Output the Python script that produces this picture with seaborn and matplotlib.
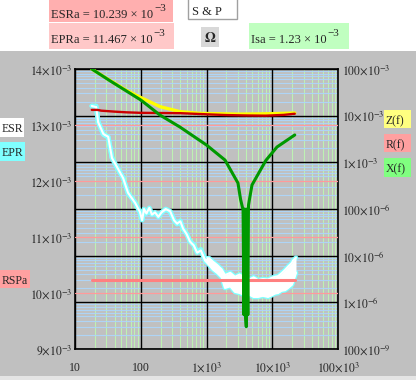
import numpy as np
import matplotlib
matplotlib.use("Agg")
import matplotlib.pyplot as plt
from matplotlib.patches import Rectangle
from matplotlib import patheffects as pe
from matplotlib.ticker import FixedLocator, LogLocator, NullFormatter
import seaborn as sns

# ---- data ----
# left axis (linear, milliohm): ESR / EPR measured, RSPa constant
freq = [18, 21, 22.5, 27, 32, 36.5, 43.5, 54, 64, 82,
        97, 105, 112, 122, 135, 148, 165, 185, 210, 240,
        280, 320, 356, 400, 440, 500, 560, 640, 720, 820,
        950, 1100, 1250, 1450, 1700, 1910, 2300, 2710, 3200, 3850,
        4500, 5200, 6070, 7200, 8610, 9800, 11000, 12230, 13800, 15630,
        17380, 19960, 20700, 22960]
esr_mohm = [13.34, 13.32, 13.05, 12.84, 12.79, 12.41, 12.25, 12.05, 11.79, 11.61,
            11.45, 11.30, 11.50, 11.42, 11.52, 11.40, 11.44, 11.36, 11.45, 11.50,
            11.46, 11.30, 11.24, 11.28, 11.15, 11.05, 10.92, 10.85, 10.72, 10.76,
            10.58, 10.50, 10.42, 10.36, 10.28, 10.09, 10.12, 10.02, 10.00, 9.96,
            9.97, 9.93, 9.93, 9.95, 9.93, 9.96, 9.99, 10.00, 10.04, 10.05,
            10.09, 10.15, 10.20, 10.36]
epr_mohm = [13.34, 13.34, 13.06, 12.83, 12.78, 12.42, 12.24, 12.06, 11.78, 11.62,
            11.44, 11.31, 11.49, 11.43, 11.51, 11.41, 11.43, 11.37, 11.44, 11.49,
            11.45, 11.31, 11.23, 11.29, 11.14, 11.06, 10.93, 10.86, 10.74, 10.78,
            10.62, 10.62, 10.56, 10.50, 10.42, 10.32, 10.36, 10.29, 10.33, 10.27,
            10.24, 10.28, 10.23, 10.25, 10.24, 10.27, 10.29, 10.30, 10.35, 10.41,
            10.47, 10.54, 10.58, 10.63]
rspa_freq = [18, 22200]
rspa_mohm = [10.239, 10.239]

# right axis (log, ohm): Z(f), R(f), X(f)
z_freq = [18, 34, 60, 100, 196, 395, 795, 1500, 3000, 6000, 12000, 22000]
z_vals = [0.100, 0.057, 0.035, 0.0245, 0.0156, 0.0122, 0.0112, 0.0110, 0.0108, 0.0109, 0.0111, 0.0114]
r_freq = [18, 22, 25, 40, 60, 100, 200, 400, 1000, 2000, 4000, 8000, 15000, 22000]
r_vals = [0.0133, 0.0133, 0.0128, 0.0122, 0.0118, 0.0115, 0.0114, 0.0113, 0.0107, 0.0103,
          0.0101, 0.0100, 0.0104, 0.0110]
x_freq = [18, 34, 60, 100, 196, 395, 1000, 1910, 3010, 3300, 3600, 3717, 3800, 3917,
          4030, 4130, 4250, 4348, 4500, 4920, 8000, 11800, 22000]
x_vals = [0.100, 0.056, 0.034, 0.0217, 0.0103, 0.0057, 0.00235, 0.00112, 3.6e-4, 1.6e-4,
          9.5e-5, 5.4e-7, 1e-4, 5.4e-7, 3e-7, 1e-4, 5.4e-7, 1.2e-4, 1.6e-4, 3.27e-4,
          1.1e-3, 2.13e-3, 3.86e-3]

x_ticks = [10, 100, 1e3, 1e4, 1e5]
x_labels = ["10", "100", r"$1{\times}10^{3}$", r"$10{\times}10^{3}$", r"$100{\times}10^{3}$"]
left_ticks_mohm = [9, 10, 11, 12, 13, 14]
left_labels = [r"$%d{\times}10^{-3}$" % v for v in left_ticks_mohm]
right_ticks = [1e-1, 1e-2, 1e-3, 1e-4, 1e-5, 1e-6, 1e-7]
right_labels = [r"$100{\times}10^{-3}$", r"$10{\times}10^{-3}$", r"$1{\times}10^{-3}$",
                r"$100{\times}10^{-6}$", r"$10{\times}10^{-6}$", r"$1{\times}10^{-6}$",
                r"$100{\times}10^{-9}$"]

# ---- style ----
sns.set_style("white")
plt.rcParams['font.family'] = ['Liberation Serif', 'DejaVu Serif']
plt.rcParams['mathtext.fontset'] = 'stix'

GRAY = '#C0C0C0'
W, H = 416, 380
fig = plt.figure(figsize=(W / 100, H / 100), dpi=100, facecolor=GRAY)
renderer = fig.canvas.get_renderer()


def px_box(x0, y0, x1, y1, color, ec='none', lw=0):
    fig.patches.append(Rectangle((x0 / W, 1 - y1 / H), (x1 - x0) / W, (y1 - y0) / H,
                                 transform=fig.transFigure, facecolor=color,
                                 edgecolor=ec, lw=lw, zorder=1))


def px_text(x, y, s, **kw):
    kw.setdefault('fontsize', 8.5)
    return fig.text(x / W, 1 - y / H, s, va='baseline', **kw)


def value_text(x, y, s, sup):
    # Mathcad style: big raised exponent right after the mantissa
    t = px_text(x, y, s, fontsize=9)
    x_end = t.get_window_extent(renderer).x1
    px_text(x_end + 1, y - 7, sup, fontsize=8)


# header band
px_box(0, 0, W, 51, 'white')
px_box(0, 376, W, H, '#E4E4E4')
px_box(49, 0, 173, 22, '#FFAFAF')
value_text(51, 18, "ESRa = 10.239 × 10", "−3")
px_box(49, 23, 174, 49, '#FFC8C8')
value_text(51, 43, "EPRa = 11.467 × 10", "−3")
px_box(188, -2, 237, 19, 'white', ec='#A0A0A0', lw=1)
px_text(192, 15, "S & P", fontsize=9)
px_box(201, 27, 219, 47, '#D8D8D8')
px_text(210, 42, r"$\mathbf{\Omega}$", ha='center', fontsize=10)
px_box(249, 23, 349, 49, '#C0FFC0')
value_text(251, 43, "Isa = 1.23 × 10", "−3")

# legend-like label boxes
px_box(0, 118, 24, 137, 'white')
px_text(2, 132, "ESR")
px_box(0, 142, 25, 161, '#80FFFF')
px_text(2, 156, "EPR")
px_box(0, 270, 30, 288, '#FFA0A0')
px_text(2, 284, "RSPa")
px_box(384, 110, 411, 128, '#FFFF80')
px_text(386, 124, "Z(f)")
px_box(384, 134, 411, 152, '#FFA0A0')
px_text(386, 148, "R(f)")
px_box(384, 158, 411, 177, '#80FF80')
px_text(386, 172, "X(f)")

# ---- axes ----
rect = [75 / W, 1 - 349 / H, 263 / W, 280 / H]
ax_g = fig.add_axes(rect)
ax_l = fig.add_axes(rect)
ax_r = fig.add_axes(rect)
for a, z in ((ax_g, 0), (ax_l, 1), (ax_r, 2)):
    a.set_zorder(z)
    a.set_xscale('log')
ax_l.patch.set_visible(False)
ax_r.patch.set_visible(False)
ax_g.set_facecolor(GRAY)
ax_g.set_yscale('log')
ax_r.set_yscale('log')

# grid on bottom axes
ax_g.xaxis.set_minor_locator(LogLocator(base=10, subs=np.arange(2, 10), numticks=20))
ax_g.yaxis.set_minor_locator(LogLocator(base=10, subs=np.arange(2, 10), numticks=20))
ax_g.xaxis.set_minor_formatter(NullFormatter())
ax_g.yaxis.set_minor_formatter(NullFormatter())
ax_g.grid(which='minor', axis='x', color='#BDF2B2', lw=0.8)
ax_g.grid(which='minor', axis='y', color='#AED4F6', lw=0.8)
for v in x_ticks:
    ax_g.axvline(v, color='black', lw=1.0, zorder=2)
for v in right_ticks:
    ax_g.axhline(v, color='black', lw=1.0, zorder=2)
ax_g.set_xlim(10, 1e5)
ax_g.set_ylim(1e-7, 1e-1)
ax_g.set_xticks(x_ticks, labels=x_labels)
ax_g.set_yticks(right_ticks, labels=[])
ax_g.tick_params(axis='both', which='both', length=0, labelsize=8.5)
ax_g.tick_params(axis='x', pad=16)
for lbl in ax_g.get_xticklabels():
    lbl.set_va('baseline')
for s in ax_g.spines.values():
    s.set_color('black')
    s.set_linewidth(1.2)

# left axis: ESR / EPR / RSPa
esr = np.array(esr_mohm) * 1e-3
epr = np.array(epr_mohm) * 1e-3
rspa = np.array(rspa_mohm) * 1e-3
for v in left_ticks_mohm[1:-1]:
    ax_l.axhline(v * 1e-3, color='#FF9A9A', lw=0.9, zorder=1)
outline = [pe.Stroke(linewidth=3.4, foreground='#80FFFF'), pe.Normal()]
sns.lineplot(x=freq, y=epr, ax=ax_l, color='white', lw=1.5, estimator=None, sort=False,
             path_effects=outline, zorder=2)
sns.lineplot(x=freq, y=esr, ax=ax_l, color='white', lw=1.5, estimator=None, sort=False,
             path_effects=outline, zorder=2)
ax_l.fill_between(freq, esr, epr, color='white', lw=0, zorder=3)
sns.lineplot(x=rspa_freq, y=rspa, ax=ax_l, color='#FF8080', lw=2.2, estimator=None, sort=False,
             zorder=4)
ax_l.set_xlim(10, 1e5)
ax_l.set_ylim(9e-3, 14e-3)
ax_l.set_yticks(np.array(left_ticks_mohm) * 1e-3, labels=left_labels)
ax_l.set_xticks([])
ax_l.xaxis.set_minor_locator(FixedLocator([]))
ax_l.tick_params(axis='y', length=0, labelsize=8.5, pad=2)
ax_l.set_xlabel('')
ax_l.set_ylabel('')
for s in ax_l.spines.values():
    s.set_visible(False)

# right axis: Z / R / X
sns.lineplot(x=z_freq, y=z_vals, ax=ax_r, color='#FFFF00', lw=2.4, estimator=None, sort=False)
sns.lineplot(x=r_freq, y=r_vals, ax=ax_r, color='#CC0000', lw=1.7, estimator=None, sort=False)
sns.lineplot(x=x_freq, y=x_vals, ax=ax_r, color='#009900', lw=2.2, estimator=None, sort=False)
ax_r.set_xlim(10, 1e5)
ax_r.set_ylim(1e-7, 1e-1)
ax_r.yaxis.tick_right()
ax_r.set_yticks(right_ticks, labels=right_labels)
ax_r.yaxis.set_minor_locator(FixedLocator([]))
ax_r.set_xticks([])
ax_r.xaxis.set_minor_locator(FixedLocator([]))
ax_r.tick_params(axis='y', which='both', length=0, labelsize=8.5, pad=3)
ax_r.set_xlabel('')
ax_r.set_ylabel('')
for s in ax_r.spines.values():
    s.set_visible(False)

fig.savefig('out.png', dpi=100, facecolor=GRAY)
